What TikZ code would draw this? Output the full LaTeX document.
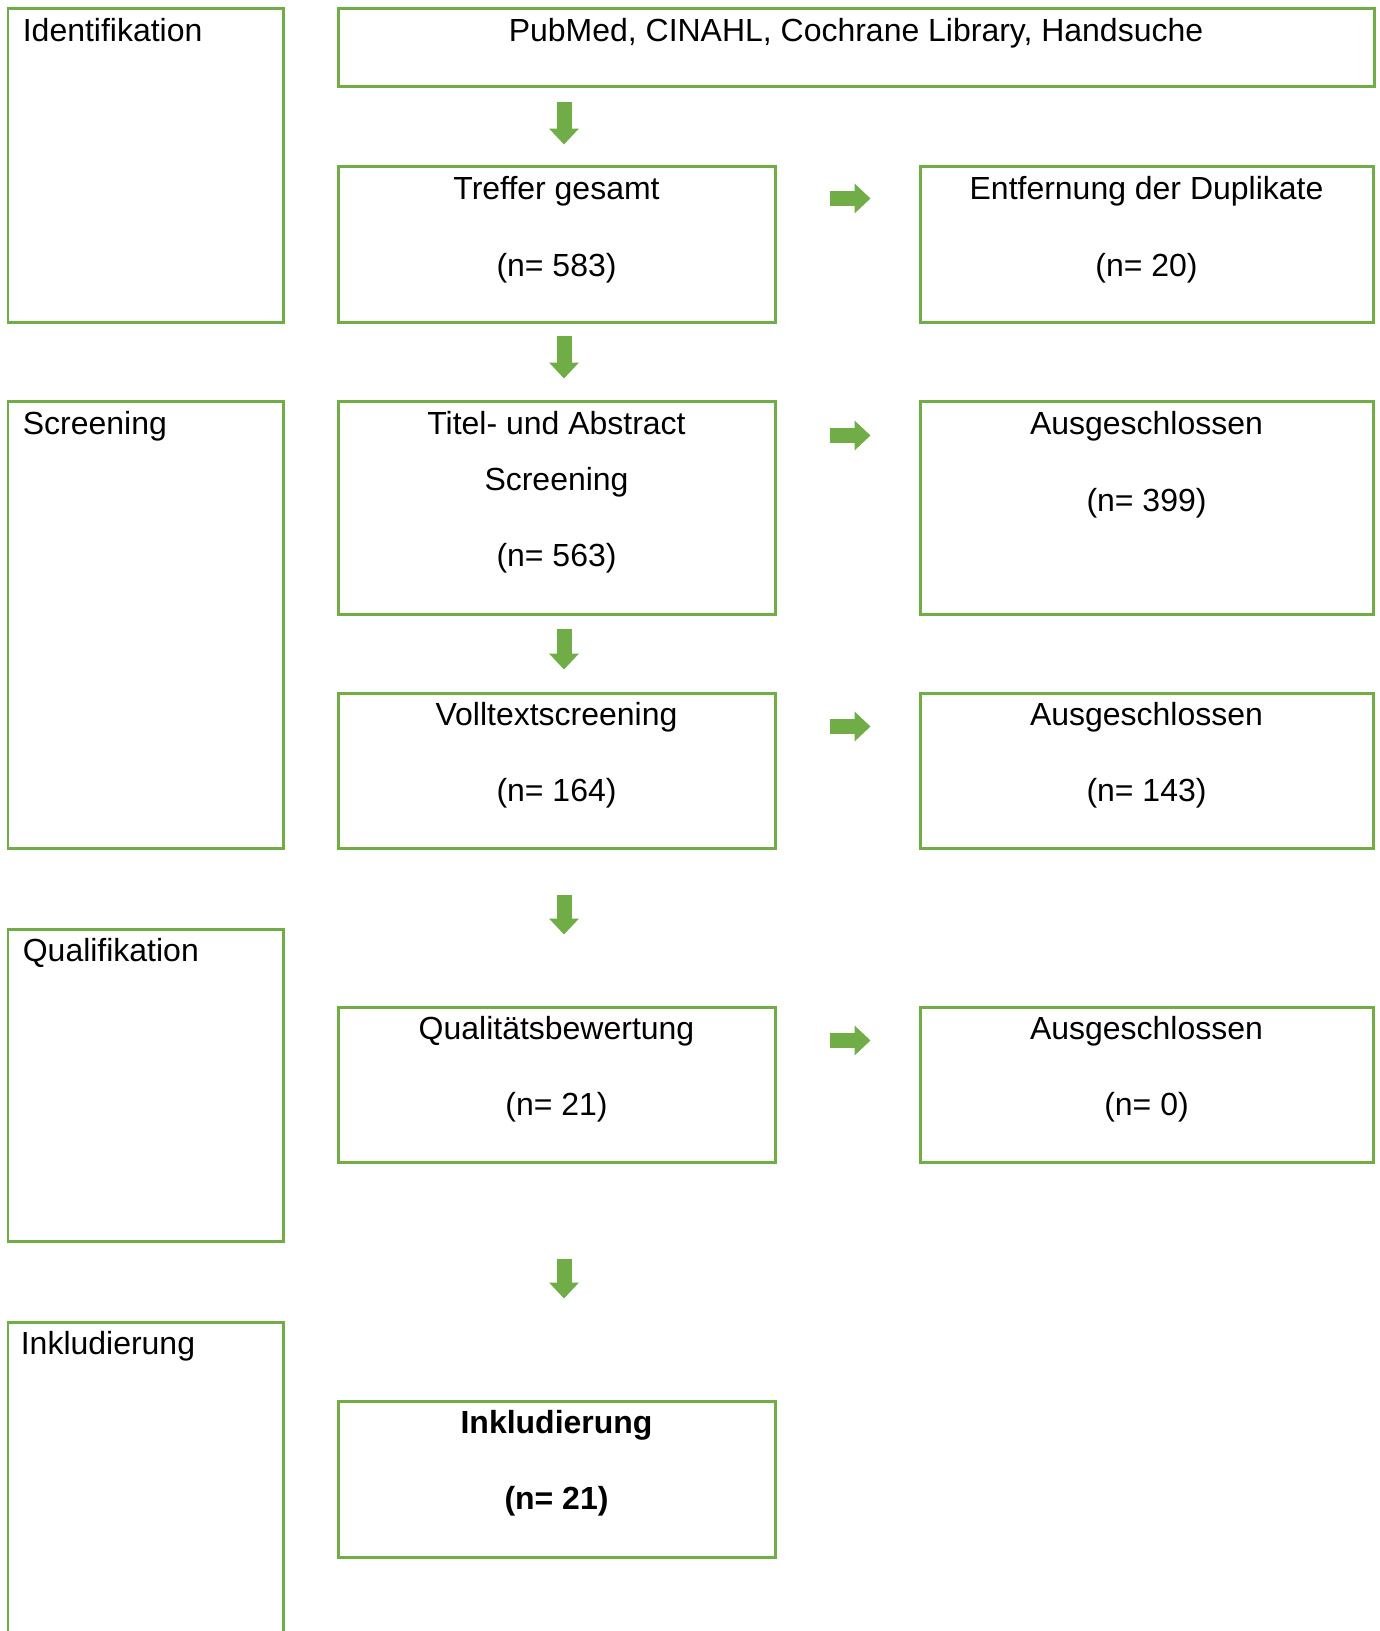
\documentclass[tikz,border=0pt]{standalone}
\usepackage{fontspec}
\setmainfont{Liberation Sans}
\usetikzlibrary{positioning,fit,calc,arrows.meta}
\definecolor{prismagreen}{HTML}{70AD47}

\begin{document}
\begin{tikzpicture}[x=0.02cm, y=-0.02cm, font=\fontsize{18.2}{22}\selectfont,
    box/.style = {draw=prismagreen, line width=0.06cm, inner sep=0pt},
    txt/.style = {anchor=base, inner sep=0pt},
    phase/.style = {anchor=base west, inner sep=0pt},
    blockarr/.style = {draw=prismagreen, line width=0.3cm, -{Triangle[width=0.58cm, length=0.32cm]}}]
    \path[use as bounding box, clip] (0,0) rectangle (1379,1631);
    % phases on the left
    \node[box, fit={(8,9) (283,323)}] (identifikation) {};
    \node[box, fit={(8,402) (283,848)}] (screening) {};
    \node[box, fit={(8,929) (283,1241)}] (qualifikation) {};
    \node[box, fit={(8,1322) (283,1660)}] (inkludierung) {};
    \node[phase] (identifikation-t) at ($(identifikation.north west)+(16,34)$) {Identifikation};
    \node[phase] (screening-t) at ($(screening.north west)+(16,34)$) {Screening};
    \node[phase] (qualifikation-t) at ($(qualifikation.north west)+(16,34)$) {Qualifikation};
    \node[phase] (inkludierung-t) at ($(inkludierung.north west)+(14,34)$) {Inkludierung};
    % main column
    \node[box, fit={(338,9) (1374,87)}] (quellen) {};
    \node[box, fit={(338,167) (775,323)}] (treffer) {};
    \node[box, fit={(338,402) (775,614)}] (titel) {};
    \node[box, fit={(338,693) (775,848)}] (volltext) {};
    \node[box, fit={(338,1007) (775,1162)}] (qualitaet) {};
    \node[box, fit={(338,1401) (775,1557)}] (inkl) {};
    % exclusions
    \node[box, fit={(920,167) (1373,323)}] (duplikate) {};
    \node[box, fit={(920,402) (1373,614)}] (aus1) {};
    \node[box, fit={(920,693) (1373,848)}] (aus2) {};
    \node[box, fit={(920,1007) (1373,1162)}] (aus3) {};
    % texts
    \node[txt] (quellen-a) at ($(quellen.north)+(0,34)$) {PubMed, CINAHL, Cochrane Library, Handsuche};
    \node[txt] (treffer-a) at ($(treffer.north)+(0,34)$) {Treffer gesamt};
    \node[txt] (treffer-b) at ($(treffer.north)+(0,111)$) {(n= 583)};
    \node[txt] (titel-a) at ($(titel.north)+(0,34)$) {Titel- und Abstract};
    \node[txt] (titel-b) at ($(titel.north)+(0,90)$) {Screening};
    \node[txt] (titel-c) at ($(titel.north)+(0,166)$) {(n= 563)};
    \node[txt] (volltext-a) at ($(volltext.north)+(0,34)$) {Volltextscreening};
    \node[txt] (volltext-b) at ($(volltext.north)+(0,110)$) {(n= 164)};
    \node[txt] (qualitaet-a) at ($(qualitaet.north)+(0,34)$) {Qualitätsbewertung};
    \node[txt] (qualitaet-b) at ($(qualitaet.north)+(0,110)$) {(n= 21)};
    \node[txt, font=\fontsize{18.2}{22}\selectfont\bfseries] (inkl-a) at ($(inkl.north)+(0,34)$) {Inkludierung};
    \node[txt, font=\fontsize{18.2}{22}\selectfont\bfseries] (inkl-b) at ($(inkl.north)+(0,110)$) {(n= 21)};
    \node[txt] (duplikate-a) at ($(duplikate.north)+(0,34)$) {Entfernung der Duplikate};
    \node[txt] (duplikate-b) at ($(duplikate.north)+(0,111)$) {(n= 20)};
    \node[txt] (aus1-a) at ($(aus1.north)+(0,34)$) {Ausgeschlossen};
    \node[txt] (aus1-b) at ($(aus1.north)+(0,111)$) {(n= 399)};
    \node[txt] (aus2-a) at ($(aus2.north)+(0,34)$) {Ausgeschlossen};
    \node[txt] (aus2-b) at ($(aus2.north)+(0,110)$) {(n= 143)};
    \node[txt] (aus3-a) at ($(aus3.north)+(0,34)$) {Ausgeschlossen};
    \node[txt] (aus3-b) at ($(aus3.north)+(0,110)$) {(n= 0)};
    % arrows down
    \draw[blockarr, shorten <=0.28cm, shorten >=0.42cm] ($(treffer.north |- quellen.south)+(7.5,0)$) -- ($(treffer.north)+(7.5,0)$);
    \draw[blockarr, shorten <=0.24cm, shorten >=0.44cm] ($(treffer.south)+(7.5,0)$) -- ($(titel.north)+(7.5,0)$);
    \draw[blockarr, shorten <=0.28cm, shorten >=0.44cm] ($(titel.south)+(7.5,0)$) -- ($(volltext.north)+(7.5,0)$);
    \draw[blockarr, shorten <=0.92cm, shorten >=1.42cm] ($(volltext.south)+(7.5,0)$) -- ($(qualitaet.north)+(7.5,0)$);
    \draw[blockarr, shorten <=1.92cm, shorten >=2.02cm] ($(qualitaet.south)+(7.5,0)$) -- ($(inkl.north)+(7.5,0)$);
    % arrows right
    \draw[blockarr, shorten <=1.06cm, shorten >=0.96cm] ($(treffer.north east)+(0,33)$) -- ($(duplikate.north west)+(0,33)$);
    \draw[blockarr, shorten <=1.06cm, shorten >=0.96cm] ($(titel.north east)+(0,35)$) -- ($(aus1.north west)+(0,35)$);
    \draw[blockarr, shorten <=1.06cm, shorten >=0.96cm] ($(volltext.north east)+(0,35)$) -- ($(aus2.north west)+(0,35)$);
    \draw[blockarr, shorten <=1.06cm, shorten >=0.96cm] ($(qualitaet.north east)+(0,35)$) -- ($(aus3.north west)+(0,35)$);
\end{tikzpicture}
\end{document}
